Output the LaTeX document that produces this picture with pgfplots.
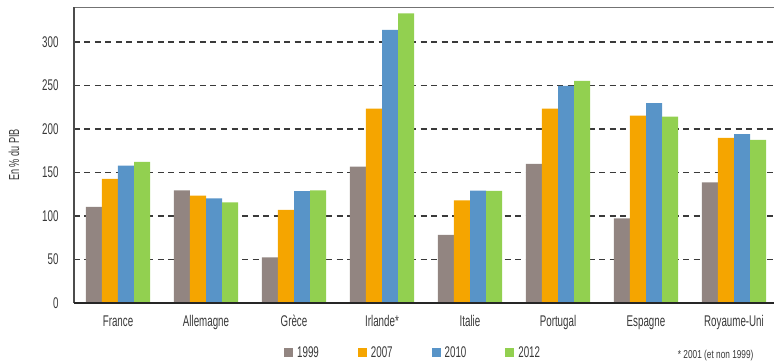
\documentclass[border=0pt]{standalone}
\usepackage{fontspec}
\setmainfont{Liberation Sans}[FakeStretch=0.63]
\newfontfamily\notefont{Liberation Sans}[FakeStretch=0.72]
\usepackage{pgfplots}
\pgfplotsset{compat=1.18}

\definecolor{c1999}{HTML}{928581}
\definecolor{c2007}{HTML}{F5A500}
\definecolor{c2010}{HTML}{5894C8}
\definecolor{c2012}{HTML}{92D050}
\definecolor{gridc}{HTML}{3A3A3A}

\begin{document}
\begin{tikzpicture}[x=1pt,y=1pt]
\begin{axis}[
  scale only axis,
  width=700pt, height=296pt,
  xmin=-0.5, xmax=7.4545,
  ymin=0, ymax=340,
  ybar=0pt, bar width=0.182,
  axis x line*=bottom, axis y line*=left,
  axis line style={draw=none},
  xtick={0,...,7},
  xticklabels={France,Allemagne,Grèce,Irlande*,Italie,Portugal,Espagne,Royaume-Uni},
  ytick={0,50,...,300},
  major tick length=0pt,
  /pgf/number format/assume math mode=true,
  tick label style={font=\fontsize{15.5}{17}\selectfont, text=black!78},
  xticklabel style={yshift=-9pt},
  yticklabel style={xshift=-12pt},
  ymajorgrids,
  grid style={gridc, line width=1.4pt, dash pattern=on 6pt off 4.5pt},
  legend columns=4,
  legend style={draw=none, fill=none, at={(0.3,-0.1689)}, anchor=west, inner sep=0pt,
    font=\fontsize{15.5}{17}\selectfont, text=black!78,
    /tikz/every even column/.append style={column sep=37pt}},
  legend image code/.code={\fill[#1] (0pt,-4.5pt) rectangle (9pt,4.5pt); \path (11pt,0pt);},
  clip=false,
]
\addplot[fill=c1999, draw=none] coordinates {(0,110.3) (1,129.5) (2,52.5) (3,156.7) (4,78.2) (5,159.8) (6,97.3) (7,138.7)};
\addplot[fill=c2007, draw=none] coordinates {(0,142.5) (1,123.4) (2,106.9) (3,223.4) (4,118.0) (5,223.4) (6,215.3) (7,189.7)};
\addplot[fill=c2010, draw=none] coordinates {(0,157.8) (1,120.3) (2,128.4) (3,313.8) (4,129.1) (5,249.4) (6,229.5) (7,193.9)};
\addplot[fill=c2012, draw=none] coordinates {(0,162.0) (1,115.7) (2,129.5) (3,332.6) (4,128.7) (5,255.2) (6,214.2) (7,187.4)};
\legend{1999,2007,2010,2012}
% frame: thin top rule, left rule, heavy baseline
\draw[black!55, line width=0.9pt] (rel axis cs:0,1) -- (rel axis cs:1,1);
\draw[black!70, line width=1.5pt] (rel axis cs:0,0) -- (rel axis cs:0,1);
\draw[black!85, line width=2.4pt] (rel axis cs:0,0) -- (rel axis cs:1,0);
% vertical axis title
\path (rel axis cs:0,0.5) ++(-60pt,0pt) node[rotate=90, font=\fontsize{14.5}{16}\selectfont, text=black!78] {En \% du PIB};
\node[anchor=east, font=\notefont\fontsize{11.5}{13}\selectfont, text=black!78] at (rel axis cs:0.9757,-0.179) {* 2001 (et non 1999)};
\coordinate (sw) at (rel axis cs:0,0);
\end{axis}
\pgfresetboundingbox
\path[use as bounding box] (sw) ++(-74pt,-59pt) rectangle ++(774pt,362pt);
\end{tikzpicture}
\end{document}
